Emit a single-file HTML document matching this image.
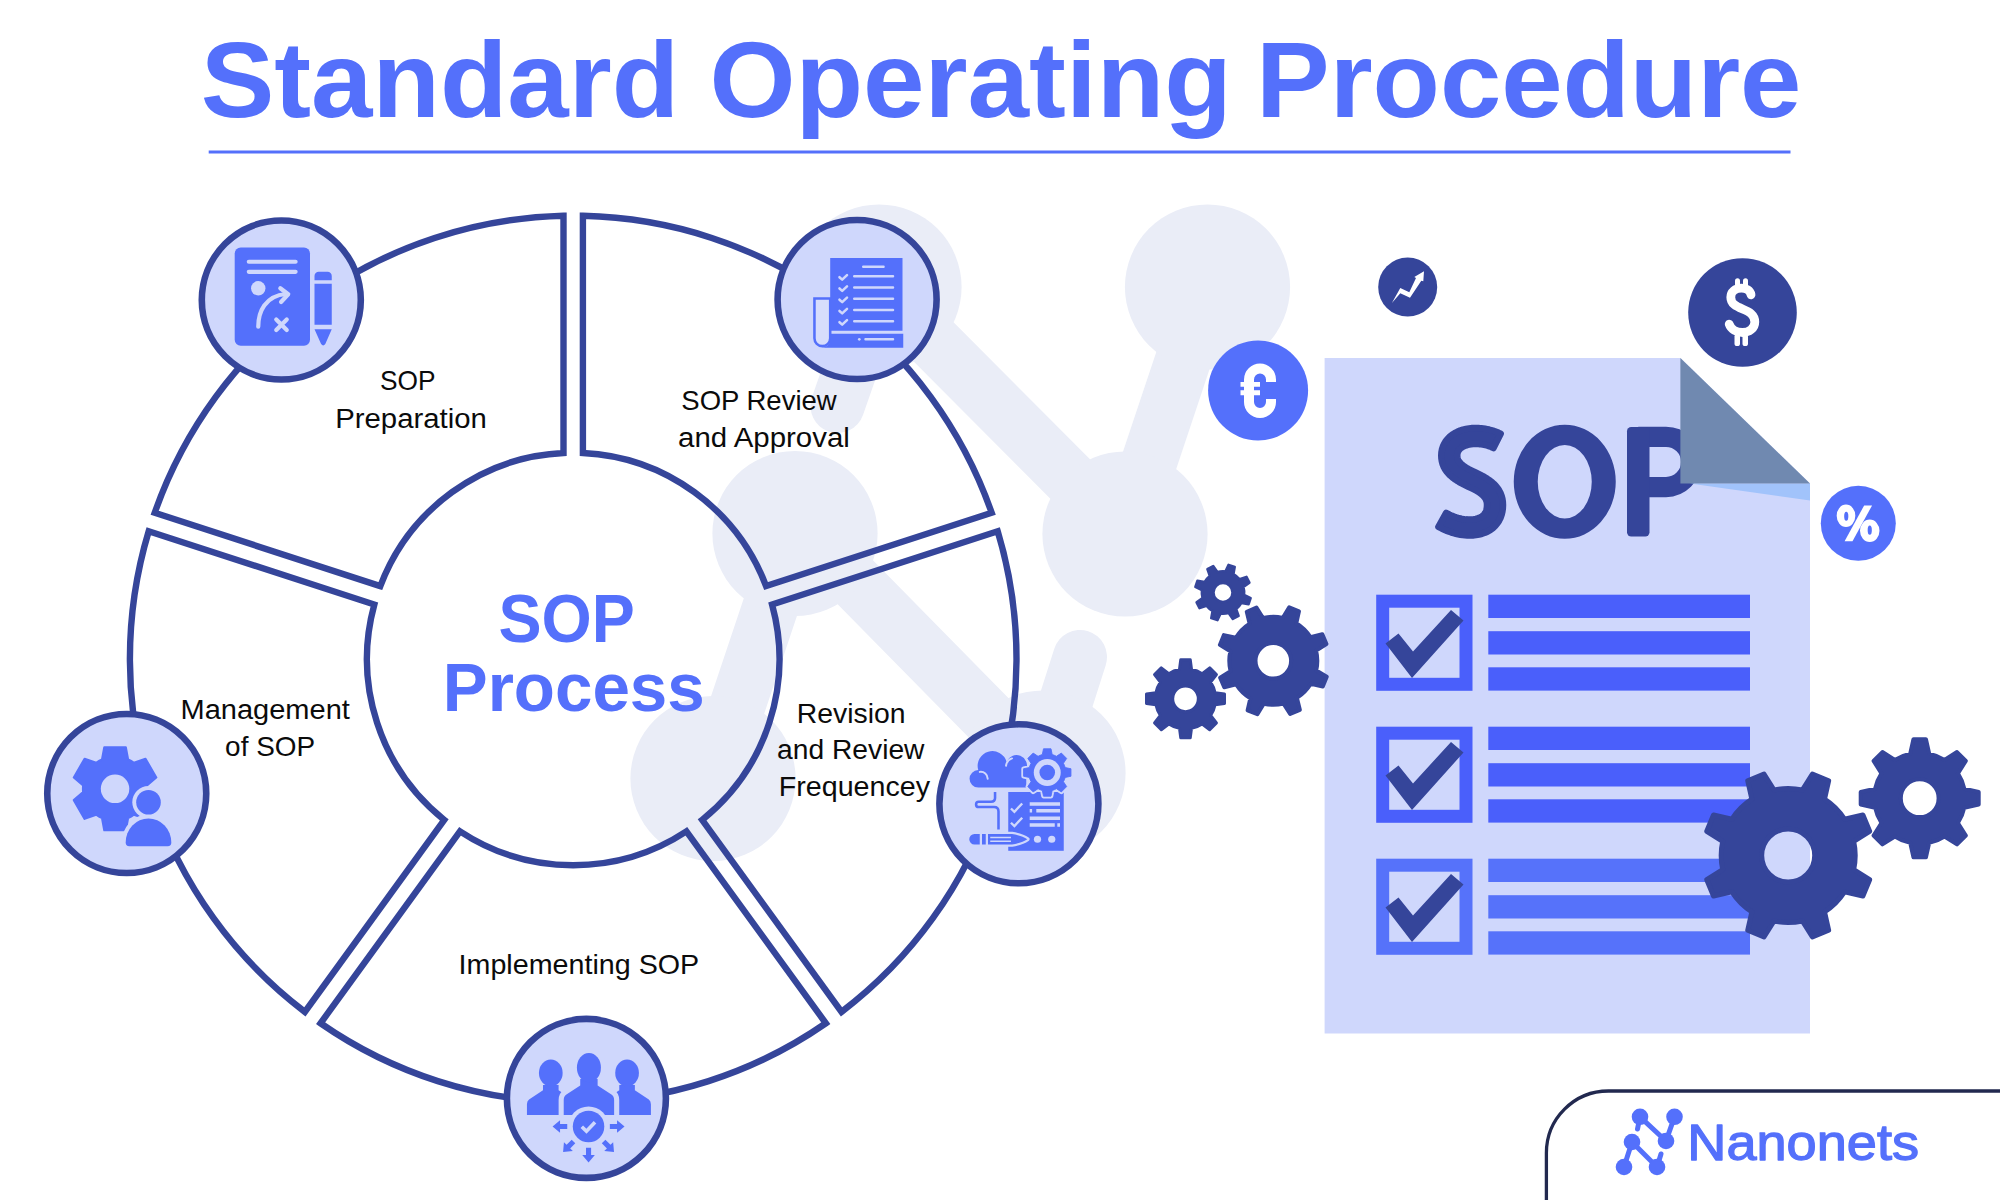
<!DOCTYPE html><html><head><meta charset="utf-8"><title>Standard Operating Procedure</title>
<style>html,body{margin:0;padding:0;background:#fff}body{width:2000px;height:1200px;overflow:hidden}svg{display:block}text{font-family:"Liberation Sans",sans-serif}</style></head><body>
<svg width="2000" height="1200" viewBox="0 0 2000 1200">
<rect width="2000" height="1200" fill="#fff"/>
<g fill="#eaedf7" stroke="#eaedf7" stroke-linecap="round"><line x1="879" y1="287" x2="1125" y2="534" stroke-width="56"/><line x1="1125" y1="534" x2="1207.5" y2="287" stroke-width="56"/><line x1="795" y1="533.5" x2="713" y2="778.5" stroke-width="56"/><line x1="801" y1="527" x2="1043" y2="773" stroke-width="56"/><line x1="879" y1="287" x2="837.5" y2="406" stroke-width="54"/><line x1="1043" y1="773" x2="1080" y2="657" stroke-width="54"/></g><g fill="#eaedf7"><circle cx="879" cy="287" r="82.6"/><circle cx="1207.5" cy="287" r="82.6"/><circle cx="1125" cy="534" r="82.6"/><circle cx="795" cy="533.5" r="82.6"/><circle cx="713" cy="778.5" r="82.6"/><circle cx="1043" cy="773" r="82.6"/></g>
<text x="200.78" y="116.7" font-size="108.2" fill="#5470fb" font-weight="bold" textLength="478.28" lengthAdjust="spacingAndGlyphs" >Standard</text>
<text x="709.54" y="116.7" font-size="108.2" fill="#5470fb" font-weight="bold" textLength="522.23" lengthAdjust="spacingAndGlyphs" >Operating</text>
<text x="1256.11" y="116.7" font-size="108.2" fill="#5470fb" font-weight="bold" textLength="545.34" lengthAdjust="spacingAndGlyphs" >Procedure</text>
<rect x="208.7" y="150.5" width="1581.8" height="3" fill="#5470fb"/>
<g fill="none" stroke="#35459a" stroke-width="6.4" stroke-linejoin="miter"><path d="M582.9 453.03 L582.9 215.81 A443.3 443.3 0 0 1 991.7 512.82 L766.09 586.13 A206.2 206.2 0 0 0 582.9 453.03Z"/><path d="M772.09 604.58 L997.7 531.27 A443.3 443.3 0 0 1 841.55 1011.85 L702.11 819.93 A206.2 206.2 0 0 0 772.09 604.58Z"/><path d="M686.42 831.34 L825.86 1023.25 A443.3 443.3 0 0 1 320.54 1023.25 L459.98 831.34 A206.2 206.2 0 0 0 686.42 831.34Z"/><path d="M444.29 819.93 L304.85 1011.85 A443.3 443.3 0 0 1 148.7 531.27 L374.31 604.58 A206.2 206.2 0 0 0 444.29 819.93Z"/><path d="M380.31 586.13 L154.7 512.82 A443.3 443.3 0 0 1 563.5 215.81 L563.5 453.03 A206.2 206.2 0 0 0 380.31 586.13Z"/></g>
<g fill="#cfd7fc" stroke="#35459a" stroke-width="6.6"><circle cx="281.3" cy="300" r="79.5"/><circle cx="857.1" cy="299.5" r="79.5"/><circle cx="1018.9" cy="803.8" r="79.5"/><circle cx="586.4" cy="1098.4" r="79.5"/><circle cx="126.75" cy="793.5" r="79.5"/></g>
<g transform="translate(190,210) scale(0.15)">
<rect x="298" y="250" width="502" height="655" rx="40" fill="#5470fb"/>
<g fill="none" stroke="#cfd7fc" stroke-width="28" stroke-linecap="round" stroke-linejoin="round">
<path d="M392 345H704M392 412H704"/><path d="M455 778C455 680 500 572 640 560"/><path d="M602 522L655 562L607 613"/><path d="M575 730L645 800M645 730L575 800"/></g>
<circle cx="455" cy="522" r="48" fill="#cfd7fc"/>
<path d="M830 468V440a28 28 0 0 1 28-28h59a28 28 0 0 1 28 28V468Z M830 492H945V765H830Z M830 795H945L902 893Q888 912 874 893Z" fill="#5470fb"/>
</g>
<g transform="translate(766,210) scale(0.15)">
<path d="M323 590H428V855A52 52 0 0 1 323 855Z" fill="#d7ddfc" stroke="#5470fb" stroke-width="17"/>
<rect x="428" y="320" width="482" height="485" fill="#5470fb"/>
<path d="M372 918H915V825H428V861A55 55 0 0 1 372 918Z" fill="#5470fb"/>
<g fill="none" stroke="#cfd7fc" stroke-width="16" stroke-linecap="round" stroke-linejoin="round"><path d="M648 378H784M588 442H847M588 517H847M588 592H847M588 667H847M588 742H847M663 862H847"/><path stroke-width="17" d="M490 448L508 464L540 434M490 523L508 539L540 509M490 598L508 614L540 584M490 673L508 689L540 659M490 748L508 764L540 734"/></g><circle cx="622" cy="862" r="9" fill="#cfd7fc"/>
</g>
<g transform="translate(928,714) scale(0.15)">
<path d="M335 490A58 58 0 0 1 335 374A97 97 0 0 1 524 318A68 68 0 0 1 655 370V490Z" fill="#5470fb"/>
<path d="M345 386A46 46 0 0 1 398 432M520 345A60 60 0 0 1 560 296" fill="none" stroke="#cfd7fc" stroke-width="13" stroke-linecap="round"/>
<rect x="535" y="520" width="370" height="392" fill="#5470fb"/>
<path d="M762 270.47L770 232 L820 232 L828 270.47A124 124 0 0 1 856.18 282.15L889.05 260.6 L924.4 295.95 L902.85 328.82A124 124 0 0 1 914.53 357L953 365 L953 415 L914.53 423A124 124 0 0 1 902.85 451.18L924.4 484.05 L889.05 519.4 L856.18 497.85A124 124 0 0 1 828 509.53L820 548 L770 548 L762 509.53A124 124 0 0 1 733.82 497.85L700.95 519.4 L665.6 484.05 L687.15 451.18A124 124 0 0 1 675.47 423L637 415 L637 365 L675.47 357A124 124 0 0 1 687.15 328.82L665.6 295.95 L700.95 260.6 L733.82 282.15A124 124 0 0 1 762 270.47Z" fill="#cfd7fc" stroke="#cfd7fc" stroke-width="30" stroke-linejoin="round"/>
<path d="M762 270.47L770 232 L820 232 L828 270.47A124 124 0 0 1 856.18 282.15L889.05 260.6 L924.4 295.95 L902.85 328.82A124 124 0 0 1 914.53 357L953 365 L953 415 L914.53 423A124 124 0 0 1 902.85 451.18L924.4 484.05 L889.05 519.4 L856.18 497.85A124 124 0 0 1 828 509.53L820 548 L770 548 L762 509.53A124 124 0 0 1 733.82 497.85L700.95 519.4 L665.6 484.05 L687.15 451.18A124 124 0 0 1 675.47 423L637 415 L637 365 L675.47 357A124 124 0 0 1 687.15 328.82L665.6 295.95 L700.95 260.6 L733.82 282.15A124 124 0 0 1 762 270.47Z" fill="#5470fb" stroke="#5470fb" stroke-width="6" stroke-linejoin="round"/>
<circle cx="795" cy="390" r="90" fill="#cfd7fc"/><circle cx="795" cy="390" r="52" fill="#5470fb"/>
<g fill="none" stroke="#cfd7fc"><path stroke-width="16" d="M553 630L576 652L628 597M553 725L576 747L628 692"/>
<path stroke-width="22" d="M678 600H880M678 645H694M722 645H880M678 695H880M678 740H845M862 740H880"/></g>
<circle cx="730" cy="835" r="24" fill="#cfd7fc"/><circle cx="825" cy="835" r="24" fill="#cfd7fc"/>
<path d="M447 520V560Q447 585 420 585H338A17.5 17.5 0 0 0 338 620H440Q470 620 470 650V770" fill="none" stroke="#5470fb" stroke-width="17"/>
<path d="M535 800H560Q630 812 662 835Q630 858 560 870H535Z" fill="#cfd7fc" stroke="#cfd7fc" stroke-width="30" stroke-linejoin="round"/>
<path d="M310 800H345V870H310A35 35 0 0 1 310 800Z M360 800H385V870H360Z M400 800H560Q630 812 662 835Q630 858 560 870H400Z" fill="#5470fb"/>
<path d="M415 823H553M415 848H553" stroke="#cfd7fc" stroke-width="9" fill="none"/>
</g>
<g transform="translate(496,1008) scale(0.15)">
<g fill="#5470fb"><path transform="translate(365.3,714)" d="M-159 0V-72Q-159 -95 -145 -104L-52 -165V-200H52V-165L145 -104Q159 -95 159 -72V0Z"/><ellipse cx="365.3" cy="433" rx="79" ry="89"/></g>
<g fill="#5470fb"><path transform="translate(873.8,714)" d="M-159 0V-72Q-159 -95 -145 -104L-52 -165V-200H52V-165L145 -104Q159 -95 159 -72V0Z"/><ellipse cx="873.8" cy="433" rx="79" ry="89"/></g>
<g fill="#cfd7fc" stroke="#cfd7fc" stroke-width="68"><path transform="translate(619.5,714)" d="M-168 0V-100Q-168 -128 -150 -138L-58 -198V-240H58V-198L150 -138Q168 -128 168 -100V0Z"/><ellipse cx="619.5" cy="398" rx="80" ry="98"/></g>
<g fill="#5470fb"><path transform="translate(619.5,714)" d="M-168 0V-100Q-168 -128 -150 -138L-58 -198V-240H58V-198L150 -138Q168 -128 168 -100V0Z"/><ellipse cx="619.5" cy="398" rx="80" ry="98"/></g>
<rect x="180" y="714.5" width="880" height="50" fill="#cfd7fc"/>
<circle cx="617" cy="790" r="134" fill="#cfd7fc"/><circle cx="617" cy="790" r="105" fill="#5470fb"/>
<path d="M572 792L603 822L660 762" fill="none" stroke="#cfd7fc" stroke-width="24"/>
<path transform="translate(617,790) rotate(0)" d="M142 -17H190V-42L240 0L190 42V17H142Z" fill="#5470fb"/>
<path transform="translate(617,790) rotate(45)" d="M142 -17H190V-42L240 0L190 42V17H142Z" fill="#5470fb"/>
<path transform="translate(617,790) rotate(90)" d="M142 -17H190V-42L240 0L190 42V17H142Z" fill="#5470fb"/>
<path transform="translate(617,790) rotate(135)" d="M142 -17H190V-42L240 0L190 42V17H142Z" fill="#5470fb"/>
<path transform="translate(617,790) rotate(180)" d="M142 -17H190V-42L240 0L190 42V17H142Z" fill="#5470fb"/>
</g>
<g transform="translate(36,703) scale(0.15)">
<path d="M440 376.48L455 296 L599 296 L614 376.48A214 214 0 0 1 652.82 398.9L730.02 371.65 L802.02 496.35 L739.82 549.59A214 214 0 0 1 739.82 594.41L802.02 647.65 L730.02 772.35 L652.82 745.1A214 214 0 0 1 614 767.52L599 848 L455 848 L440 767.52A214 214 0 0 1 401.18 745.1L323.98 772.35 L251.98 647.65 L314.18 594.41A214 214 0 0 1 314.18 549.59L251.98 496.35 L323.98 371.65 L401.18 398.9A214 214 0 0 1 440 376.48Z" fill="#5470fb" stroke="#5470fb" stroke-width="14" stroke-linejoin="round"/>
<circle cx="527" cy="572" r="95" fill="#cfd7fc"/>
<circle cx="750" cy="662" r="108" fill="#cfd7fc"/><path d="M622 955Q598 955 598 930A152 160 0 0 1 902 930Q902 955 878 955Z" fill="#cfd7fc" stroke="#cfd7fc" stroke-width="52"/>
<circle cx="750" cy="662" r="82" fill="#5470fb"/><path d="M622 955Q598 955 598 930A152 160 0 0 1 902 930Q902 955 878 955Z" fill="#5470fb"/>
</g>
<text x="379.98" y="390.4" font-size="27.7" fill="#0b0b0b" font-weight="normal" textLength="55.53" lengthAdjust="spacingAndGlyphs" >SOP</text>
<text x="335.21" y="427.5" font-size="27.7" fill="#0b0b0b" font-weight="normal" textLength="151.64" lengthAdjust="spacingAndGlyphs" >Preparation</text>
<text x="681.34" y="410" font-size="27.7" fill="#0b0b0b" font-weight="normal" textLength="155.32" lengthAdjust="spacingAndGlyphs" >SOP Review</text>
<text x="678.09" y="446.9" font-size="27.7" fill="#0b0b0b" font-weight="normal" textLength="171.73" lengthAdjust="spacingAndGlyphs" >and Approval</text>
<text x="180.53" y="718.7" font-size="27.7" fill="#0b0b0b" font-weight="normal" textLength="169.37" lengthAdjust="spacingAndGlyphs" >Management</text>
<text x="225.13" y="755.6" font-size="27.7" fill="#0b0b0b" font-weight="normal" textLength="89.94" lengthAdjust="spacingAndGlyphs" >of SOP</text>
<text x="796.78" y="722.6" font-size="27.7" fill="#0b0b0b" font-weight="normal" textLength="108.81" lengthAdjust="spacingAndGlyphs" >Revision</text>
<text x="777.12" y="759.2" font-size="27.7" fill="#0b0b0b" font-weight="normal" textLength="147.34" lengthAdjust="spacingAndGlyphs" >and Review</text>
<text x="778.76" y="796" font-size="27.7" fill="#0b0b0b" font-weight="normal" textLength="151.24" lengthAdjust="spacingAndGlyphs" >Frequencey</text>
<text x="458.56" y="974" font-size="27.7" fill="#0b0b0b" font-weight="normal" textLength="240.64" lengthAdjust="spacingAndGlyphs" >Implementing SOP</text>
<text x="498.39" y="641.8" font-size="68" fill="#5470fb" font-weight="bold" textLength="136.31" lengthAdjust="spacingAndGlyphs" >SOP</text>
<text x="442.79" y="711.4" font-size="68" fill="#5470fb" font-weight="bold" textLength="261.93" lengthAdjust="spacingAndGlyphs" >Process</text>
<path d="M1324.6 358H1680.4L1810 483.6V1033.5H1324.6Z" fill="#cfd7fc"/>
<g transform="translate(1420,400) scale(0.15)" fill="none" stroke="#35459a">
<path d="M537.5 225.26L524.87 219.19L512.14 213.7L499.32 208.77L486.44 204.39L473.5 200.54L460.54 197.22L447.55 194.39L434.56 192.06L421.58 190.19L408.63 188.76L395.7 187.77L382.83 187.19L370 187L348.18 187.69L326.88 189.75L306.17 193.2L286.11 198.05L266.77 204.31L248.24 212.02L230.62 221.24L214.03 231.99L198.63 244.32L184.61 258.26L172.19 273.77L161.63 290.78L153.16 309.15L146.99 328.64L143.25 349.02L142 370L143.04 390.12L146.2 409.6L151.43 428.25L158.61 445.87L167.53 462.27L177.91 477.37L189.48 491.19L202.03 503.81L215.35 515.35L229.31 525.97L243.83 535.82L258.81 545.05L274.22 553.77L289.98 562.09L306.07 570.13L322.43 577.96L337.63 585.2L352.09 592.36L365.71 599.48L378.41 606.58L390.08 613.69L400.64 620.8L410.03 627.91L418.21 635L425.19 642.04L431.01 649.06L435.79 656.12L439.64 663.37L442.7 671.07L444.98 679.52L446.46 689.06L447 700L446.41 713.33L444.76 725.12L442.2 735.48L438.87 744.55L434.86 752.53L430.18 759.61L424.78 765.98L418.57 771.78L411.42 777.09L403.22 781.92L393.89 786.21L383.38 789.9L371.7 792.91L358.87 795.14L344.95 796.53L330 797L319.13 796.77L308.22 796.07L297.27 794.92L286.28 793.31L275.24 791.25L264.17 788.74L253.07 785.77L241.93 782.36L230.77 778.5L219.58 774.2L208.39 769.46L197.18 764.28L185.98 758.67L174.78 752.63L123.08 845.16L137.06 852.71L151.19 859.78L165.46 866.38L179.87 872.48L194.41 878.07L209.07 883.14L223.85 887.67L238.75 891.64L253.75 895.05L268.85 897.87L284.04 900.09L299.3 901.7L314.62 902.67L330 903L351.83 902.3L373.16 900.17L393.95 896.55L414.12 891.35L433.59 884.49L452.25 875.9L469.93 865.48L486.43 853.22L501.53 839.1L514.98 823.21L526.57 805.68L536.13 786.7L543.56 766.47L548.84 745.19L551.97 723L553 700L551.92 678.34L548.67 657.48L543.26 637.57L535.82 618.81L526.55 601.37L515.73 585.35L503.64 570.76L490.54 557.5L476.65 545.46L462.15 534.47L447.15 524.36L431.75 514.98L416.02 506.18L400.04 497.83L383.87 489.82L367.57 482.04L352.54 474.86L338.32 467.75L324.97 460.71L312.59 453.7L301.26 446.73L291.06 439.81L282.03 432.95L274.22 426.19L267.63 419.57L262.19 413.09L257.81 406.74L254.36 400.38L251.69 393.84L249.72 386.81L248.46 378.97L248 370L248.49 361.7L249.85 354.25L252 347.45L254.93 341.09L258.7 335.03L263.4 329.17L269.13 323.48L275.97 318.01L283.96 312.84L293.12 308.05L303.43 303.77L314.83 300.08L327.26 297.08L340.66 294.86L354.93 293.47L370 293L379.67 293.14L389.28 293.58L398.81 294.31L408.26 295.35L417.63 296.7L426.92 298.37L436.13 300.37L445.25 302.71L454.28 305.39L463.24 308.44L472.11 311.85L480.91 315.65L489.64 319.84Z" fill="#35459a" stroke-width="44" stroke-linejoin="round"/>
<path fill="#35459a" stroke="none" fill-rule="evenodd" d="M625 545a340 380 0 1 0 680 0a340 380 0 1 0 -680 0ZM785 545a180 245 0 1 0 360 0a180 245 0 1 0 -360 0Z"/>
<path stroke-width="135" d="M1455 245H1640A167.5 167.5 0 0 1 1640 580H1455"/>
<rect x="1380" y="180" width="150" height="730" rx="28" fill="#35459a" stroke="none"/>
</g>
<path d="M1690 483.6H1810V500.5Z" fill="#a1c3fb"/>
<path d="M1680.4 358L1810 483.6H1680.4Z" fill="#7089b0"/>
<rect x="1382.7" y="601.2" width="83.3" height="83.1" fill="none" stroke="#4a5ffb" stroke-width="13"/>
<rect x="1488.3" y="594.7" width="261.7" height="23.3" fill="#4a5ffb"/>
<rect x="1488.3" y="631.2" width="261.7" height="23.3" fill="#4a5ffb"/>
<rect x="1488.3" y="667.3" width="261.7" height="23.3" fill="#4a5ffb"/>
<polygon points="1385.5,643.5 1398.5,633.5 1413,651.5 1451,610 1463.5,620.5 1412,678" fill="#35459a"/>
<rect x="1382.7" y="733.2" width="83.3" height="83.1" fill="none" stroke="#4a5ffb" stroke-width="13"/>
<rect x="1488.3" y="726.7" width="261.7" height="23.3" fill="#4a5ffb"/>
<rect x="1488.3" y="763.2" width="261.7" height="23.3" fill="#4a5ffb"/>
<rect x="1488.3" y="799.3" width="261.7" height="23.3" fill="#4a5ffb"/>
<polygon points="1385.5,775.5 1398.5,765.5 1413,783.5 1451,742 1463.5,752.5 1412,810" fill="#35459a"/>
<rect x="1382.7" y="865.2" width="83.3" height="83.1" fill="none" stroke="#5672fa" stroke-width="13"/>
<rect x="1488.3" y="858.7" width="261.7" height="23.3" fill="#5672fa"/>
<rect x="1488.3" y="895.2" width="261.7" height="23.3" fill="#5672fa"/>
<rect x="1488.3" y="931.3" width="261.7" height="23.3" fill="#5672fa"/>
<polygon points="1385.5,907.5 1398.5,897.5 1413,915.5 1451,874 1463.5,884.5 1412,942" fill="#35459a"/>
<circle cx="1258.1" cy="390.5" r="50" fill="#5470fb"/>
<circle cx="1407.7" cy="287.1" r="29.5" fill="#35459a"/>
<circle cx="1742.5" cy="312.5" r="54.3" fill="#35459a"/>
<circle cx="1858.3" cy="523.3" r="37.5" fill="#5470fb"/>
<g transform="translate(1200,330) scale(0.1)"><path d="M710 520V495A110 110 0 0 0 490 495V720A110 110 0 0 0 710 720V690" fill="none" stroke="#fff" stroke-width="100"/><path d="M405 520H600V568H405ZM405 603H600V653H405Z" fill="#fff"/></g>
<g transform="translate(1682,252) scale(0.1)"><path d="M690 428C682 382 640 362 595 362C530 362 488 400 488 452C488 520 545 545 605 570C670 597 728 625 728 700C728 765 670 805 605 805C545 805 490 775 472 722" fill="none" stroke="#fff" stroke-width="88" stroke-linecap="round"/>
<g fill="#fff"><rect x="530" y="262" width="50" height="90" rx="25"/><rect x="610" y="262" width="50" height="90" rx="25"/><rect x="525" y="820" width="55" height="120" rx="26"/><rect x="605" y="820" width="55" height="120" rx="26"/></g></g>
<g transform="translate(1810,475) scale(0.083333)" fill="#fff" fill-rule="evenodd"><path d="M320 490a112 135 0 1 0 224 0a112 135 0 1 0 -224 0ZM410 495a25 55 0 1 0 50 0a25 55 0 1 0 -50 0Z"/><path d="M600 670a117 135 0 1 0 234 0a117 135 0 1 0 -234 0ZM692 662a25 55 0 1 0 50 0a25 55 0 1 0 -50 0Z"/><path d="M650 365H745L510 795H415Z"/></g>
<polygon points="1391.9,303 1400.3,288 1409.3,292.3 1416,278 1414.3,277 1424,271.3 1423.3,281.3 1421.3,280.7 1410,297.7 1400.3,293.3" fill="#fff"/>
<path d="M1244.07 594.88L1250.63 598.06 L1248.63 604.24 L1241.44 602.96A21.2 21.2 0 0 1 1236.22 609.08L1238.61 615.97 L1232.82 618.92 L1228.64 612.94A21.2 21.2 0 0 1 1220.62 613.57L1217.44 620.13 L1211.26 618.13 L1212.54 610.94A21.2 21.2 0 0 1 1206.42 605.72L1199.53 608.11 L1196.58 602.32 L1202.56 598.14A21.2 21.2 0 0 1 1201.93 590.12L1195.37 586.94 L1197.37 580.76 L1204.56 582.04A21.2 21.2 0 0 1 1209.78 575.92L1207.39 569.03 L1213.18 566.08 L1217.36 572.06A21.2 21.2 0 0 1 1225.38 571.43L1228.56 564.87 L1234.74 566.87 L1233.46 574.06A21.2 21.2 0 0 1 1239.58 579.28L1246.47 576.89 L1249.42 582.68 L1243.44 586.86A21.2 21.2 0 0 1 1244.07 594.88ZM1213.5 592.5 a9.5 9.5 0 1 0 19 0 a9.5 9.5 0 1 0 -19 0Z" fill="#35459a" fill-rule="evenodd" stroke="#35459a" stroke-width="2.5" stroke-linejoin="round"/>
<path d="M1316.25 670.34L1326.73 676.72 L1322.79 686.46 L1310.82 683.78A44 44 0 0 1 1296.93 697.92L1299.82 709.84 L1290.15 713.94 L1283.58 703.58A44 44 0 0 1 1263.76 703.75L1257.38 714.23 L1247.64 710.29 L1250.32 698.32A44 44 0 0 1 1236.18 684.43L1224.26 687.32 L1220.16 677.65 L1230.52 671.08A44 44 0 0 1 1230.35 651.26L1219.87 644.88 L1223.81 635.14 L1235.78 637.82A44 44 0 0 1 1249.67 623.68L1246.78 611.76 L1256.45 607.66 L1263.02 618.02A44 44 0 0 1 1282.84 617.85L1289.22 607.37 L1298.96 611.31 L1296.28 623.28A44 44 0 0 1 1310.42 637.17L1322.34 634.28 L1326.44 643.95 L1316.08 650.52A44 44 0 0 1 1316.25 670.34ZM1255.5 660.8 a17.8 17.8 0 1 0 35.6 0 a17.8 17.8 0 1 0 -35.6 0Z" fill="#35459a" fill-rule="evenodd" stroke="#35459a" stroke-width="4" stroke-linejoin="round"/>
<path d="M1215.1 692.8L1224.5 694.05 L1224.5 703.55 L1215.1 704.8A30.2 30.2 0 0 1 1210.67 715.49L1216.44 723.02 L1209.72 729.74 L1202.19 723.97A30.2 30.2 0 0 1 1191.5 728.4L1190.25 737.8 L1180.75 737.8 L1179.5 728.4A30.2 30.2 0 0 1 1168.81 723.97L1161.28 729.74 L1154.56 723.02 L1160.33 715.49A30.2 30.2 0 0 1 1155.9 704.8L1146.5 703.55 L1146.5 694.05 L1155.9 692.8A30.2 30.2 0 0 1 1160.33 682.11L1154.56 674.58 L1161.28 667.86 L1168.81 673.63A30.2 30.2 0 0 1 1179.5 669.2L1180.75 659.8 L1190.25 659.8 L1191.5 669.2A30.2 30.2 0 0 1 1202.19 673.63L1209.72 667.86 L1216.44 674.58 L1210.67 682.11A30.2 30.2 0 0 1 1215.1 692.8ZM1172.7 698.8 a12.8 12.8 0 1 0 25.6 0 a12.8 12.8 0 1 0 -25.6 0Z" fill="#35459a" fill-rule="evenodd" stroke="#35459a" stroke-width="3" stroke-linejoin="round"/>
<path d="M1853.69 869.64L1869.64 879.71 L1862.9 895.97 L1844.51 891.81A67 67 0 0 1 1824.51 911.81L1828.67 930.2 L1812.41 936.94 L1802.34 920.99A67 67 0 0 1 1774.06 920.99L1763.99 936.94 L1747.73 930.2 L1751.89 911.81A67 67 0 0 1 1731.89 891.81L1713.5 895.97 L1706.76 879.71 L1722.71 869.64A67 67 0 0 1 1722.71 841.36L1706.76 831.29 L1713.5 815.03 L1731.89 819.19A67 67 0 0 1 1751.89 799.19L1747.73 780.8 L1763.99 774.06 L1774.06 790.01A67 67 0 0 1 1802.34 790.01L1812.41 774.06 L1828.67 780.8 L1824.51 799.19A67 67 0 0 1 1844.51 819.19L1862.9 815.03 L1869.64 831.29 L1853.69 841.36A67 67 0 0 1 1853.69 869.64ZM1761.7 855.5 a26.5 26.5 0 1 0 53 0 a26.5 26.5 0 1 0 -53 0Z" fill="#35459a" fill-rule="evenodd" stroke="#35459a" stroke-width="5" stroke-linejoin="round"/>
<path d="M1964.3 788.7L1978.7 791.95 L1978.7 804.45 L1964.3 807.7A45.6 45.6 0 0 1 1957.95 823.02L1965.84 835.5 L1957 844.34 L1944.52 836.45A45.6 45.6 0 0 1 1929.2 842.8L1925.95 857.2 L1913.45 857.2 L1910.2 842.8A45.6 45.6 0 0 1 1894.88 836.45L1882.4 844.34 L1873.56 835.5 L1881.45 823.02A45.6 45.6 0 0 1 1875.1 807.7L1860.7 804.45 L1860.7 791.95 L1875.1 788.7A45.6 45.6 0 0 1 1881.45 773.38L1873.56 760.9 L1882.4 752.06 L1894.88 759.95A45.6 45.6 0 0 1 1910.2 753.6L1913.45 739.2 L1925.95 739.2 L1929.2 753.6A45.6 45.6 0 0 1 1944.52 759.95L1957 752.06 L1965.84 760.9 L1957.95 773.38A45.6 45.6 0 0 1 1964.3 788.7ZM1900.8 798.2 a18.9 18.9 0 1 0 37.8 0 a18.9 18.9 0 1 0 -37.8 0Z" fill="#35459a" fill-rule="evenodd" stroke="#35459a" stroke-width="4" stroke-linejoin="round"/>
<path d="M1546.4 1210V1153A62 62 0 0 1 1608.4 1091H2010" fill="#fff" stroke="#22294f" stroke-width="3.3"/>
<g stroke="#5470fb" stroke-width="5" stroke-linecap="round" fill="#5470fb"><line x1="1640" y1="1116.8" x2="1666" y2="1141"/><line x1="1666" y1="1141" x2="1674.5" y2="1116.8"/><line x1="1632" y1="1142" x2="1624" y2="1167"/><line x1="1632" y1="1142" x2="1657" y2="1167"/><line x1="1640" y1="1116.8" x2="1637.5" y2="1129"/><line x1="1657" y1="1167" x2="1661" y2="1154"/></g><g fill="#5470fb"><circle cx="1640" cy="1116.8" r="8.3"/><circle cx="1674.5" cy="1116.8" r="8.3"/><circle cx="1666" cy="1141" r="8.3"/><circle cx="1632" cy="1142" r="8.3"/><circle cx="1624" cy="1167" r="8.3"/><circle cx="1657" cy="1167" r="8.3"/></g>
<text x="1687.37" y="1159.8" font-size="49.5" fill="#5470fb" font-weight="normal" textLength="231.62" lengthAdjust="spacingAndGlyphs" stroke="#5470fb" stroke-width="1.3" stroke-linejoin="round">Nanonets</text>
</svg></body></html>
